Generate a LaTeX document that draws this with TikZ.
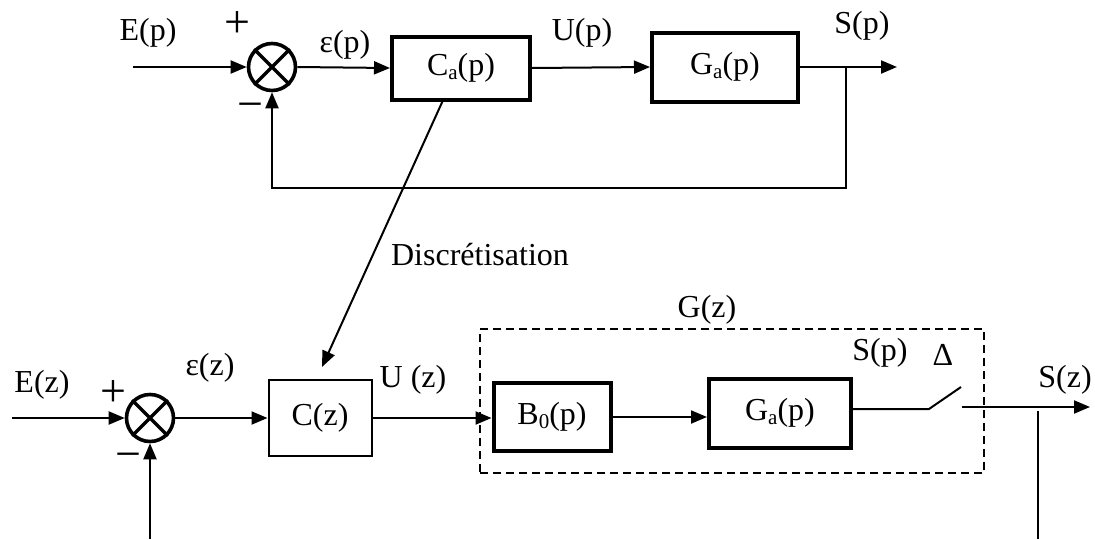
\documentclass[tikz,border=0pt]{standalone}
\usepackage{fontspec}
\setmainfont{Liberation Serif}
\usetikzlibrary{arrows.meta}
\newcommand{\mysub}[1]{\raisebox{-0.13em}{\fontsize{21}{21}\selectfont #1}}
\tikzset{
  lbl/.style={inner sep=0pt, font=\fontsize{32}{36}\selectfont},
  sgn/.style={inner sep=0pt, font=\fontsize{46}{48}\selectfont},
  thickbox/.style={draw, line width=4pt, inner sep=0pt, font=\fontsize{32}{36}\selectfont},
  thinbox/.style={draw, line width=2pt, inner sep=0pt, font=\fontsize{32}{36}\selectfont},
  sumc/.style={draw, circle, line width=3.6pt, minimum size=47pt, inner sep=0pt},
  wire/.style={line width=2pt},
  arr/.style={wire, -{Triangle[length=16pt,width=13pt]}},
  dashbox/.style={draw, line width=1.8pt, dash pattern=on 8pt off 5pt, inner sep=0pt}
}
\begin{document}
\begin{tikzpicture}[x=1pt,y=-1pt]
\useasboundingbox (0,0) rectangle (1095,539);
% ---------- top loop ----------
\node[sumc] (s1) at (272,67) {};
\draw[line width=3.4pt] (s1.45) -- (s1.225) (s1.135) -- (s1.315);
\node[thickbox, minimum width=138pt, minimum height=63pt] (ca) at (461,68) {C\mysub{a}(p)};
\node[thickbox, minimum width=146pt, minimum height=69pt] (ga) at (725,67) {G\mysub{a}(p)};
\coordinate (in1) at (133,67);
\coordinate (out1) at (897,67);
\coordinate (br1) at (846,67);
\coordinate (fb1) at (846,188);
\draw[arr] (in1) -- (s1.west);
\draw[arr] (s1.east) -- (ca.west);
\draw[arr] (ca.east) -- (ga.west);
\draw[arr] (ga.east) -- (out1);
\draw[arr] (br1) -- (fb1) -| (s1.south);
\node[lbl] (ep) at (148,33) {E(p)};
\node[sgn] (p1) at (237,25) {+};
\node[sgn] (m1) at (250,111) {−};
\node[lbl] (eps) at (345,45) {ε(p)};
\node[lbl] (up) at (582,33) {U(p)};
\node[lbl] (sp) at (862,26) {S(p)};
% ---------- discretisation ----------
\coordinate (d2) at (322,367);
\draw[arr] (ca.241) -- (d2);
\node[lbl] (disc) at (480,255) {Discrétisation};
% ---------- bottom loop ----------
\node[dashbox, minimum width=504pt, minimum height=144pt] (gz) at (732,401) {};
\node[sumc] (s2) at (150,418) {};
\draw[line width=3.4pt] (s2.45) -- (s2.225) (s2.135) -- (s2.315);
\node[thinbox, minimum width=103pt, minimum height=76pt] (cz) at (320,418) {C(z)};
\node[thickbox, minimum width=117pt, minimum height=68pt] (b0) at (552,417) {B\mysub{0}(p)};
\node[thickbox, minimum width=142pt, minimum height=69pt] (ga2) at (780,413) {G\mysub{a}(p)};
\coordinate (in2) at (12,418);
\coordinate (fb3) at (150,539);
\coordinate (sw1) at (929,409);
\coordinate (sw2) at (961,387);
\coordinate (sw3) at (962,407);
\coordinate (out2) at (1090,407);
\coordinate (br2) at (1038,411);
\coordinate (fb2) at (1038,539);
\draw[arr] (in2) -- (s2.west);
\draw[arr] (fb3) -- (s2.south);
\draw[arr] (s2.east) -- (cz.west);
\draw[arr] (cz.east) -- (cz.east -| b0.west);
\draw[arr] (b0.east) -- (b0.east -| ga2.west);
\draw[wire] (ga2.east |- sw1) -- (sw1) -- (sw2);
\draw[arr] (sw3) -- (out2);
\draw[wire] (br2) -- (fb2);
\node[lbl] (ez) at (42,385) {E(z)};
\node[sgn] (p2) at (113,393) {+};
\node[sgn] (m2) at (128,461) {−};
\node[lbl] (epsz) at (210,368) {ε(z)};
\node[lbl] (uz) at (413,380) {U (z)};
\node[lbl] (gzl) at (707,310) {G(z)};
\node[lbl] (sp2) at (880,353) {S(p)};
\node[lbl] (delta) at (943,355) {Δ};
\node[lbl] (sz) at (1065,380) {S(z)};
\end{tikzpicture}
\end{document}
